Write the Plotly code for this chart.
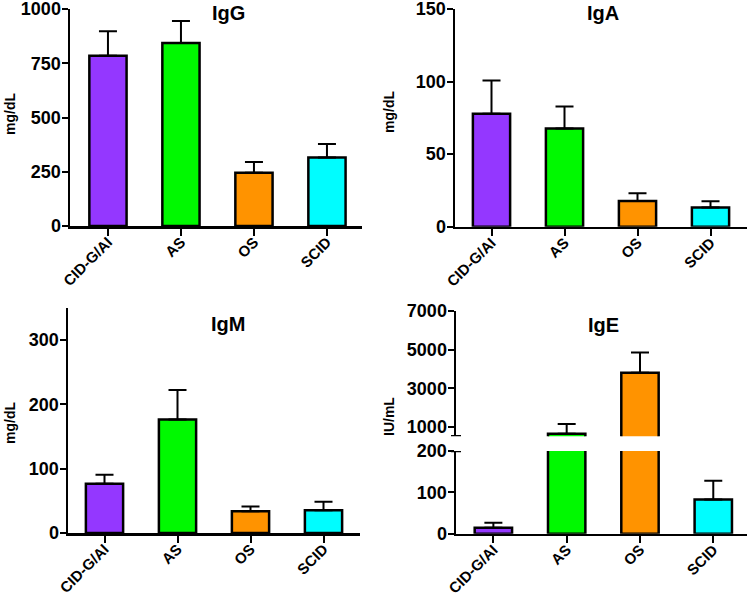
import plotly.graph_objects as go

# ---------------- data ----------------
groups = ["CID-G/AI", "AS", "OS", "SCID"]
colors = ["#9437FF", "#00F900", "#FF9300", "#00FDFF"]

igg_mean = [785, 843, 245, 316]
igg_sd = [113, 102, 50, 62]

iga_mean = [77.8, 67.6, 17.7, 13.2]
iga_sd = [23.0, 15.3, 5.3, 4.3]

igm_mean = [76.5, 176.5, 33.7, 35.2]
igm_sd = [14.0, 46.0, 7.7, 13.4]

ige_mean = [14.5, 654, 3811, 83]
ige_sd = [12.1, 501, 1049, 45]

igg_ticks = [0, 250, 500, 750, 1000]
iga_ticks = [0, 50, 100, 150]
igm_ticks = [0, 100, 200, 300]
ige_low_ticks = [0, 100, 200]
ige_high_ticks = [1000, 3000, 5000, 7000]

# ---------------- layout helpers ----------------
W, H = 750, 594
FONT = "Liberation Sans, Arial, sans-serif"


def clamp(v):
    return max(0.0, min(1.0, v))


def px2x(p):
    return p / W


def px2y(p):
    return 1 - p / H


def xd(a, b):
    return [clamp(px2x(a)), clamp(px2x(b))]


def yd(top, bottom):
    return [clamp(px2y(bottom)), clamp(px2y(top))]


def bar(means, sds, xa, ya):
    return go.Bar(
        x=groups, y=means, xaxis=xa, yaxis=ya,
        marker=dict(color=colors, line=dict(color="black", width=2.5)),
        error_y=dict(type="data", symmetric=False, array=sds,
                     arrayminus=[0] * len(sds), color="black",
                     thickness=2, width=9),
        showlegend=False, hoverinfo="x+y",
    )


fig = go.Figure()
fig.add_trace(bar(igg_mean, igg_sd, "x", "y"))
fig.add_trace(bar(iga_mean, iga_sd, "x2", "y2"))
fig.add_trace(bar(igm_mean, igm_sd, "x3", "y3"))
fig.add_trace(bar(ige_mean, ige_sd, "x4", "y4"))
fig.add_trace(bar(ige_mean, ige_sd, "x4", "y5"))

tickfont = dict(family=FONT, size=18, color="black", weight="bold")
xtickfont = dict(family=FONT, size=15, color="black", weight="bold")


def xaxis(dom, anchor, rng):
    return dict(domain=xd(*dom), anchor=anchor, range=rng, type="category",
                showline=True, linecolor="black", linewidth=2.5,
                ticks="outside", ticklen=7, tickwidth=2, tickcolor="black",
                tickangle=-45, tickfont=xtickfont, showgrid=False,
                zeroline=False, fixedrange=True, automargin=False,
                ticklabelstandoff=-8, ticklabeloverflow="allow")


def yaxis(dom, anchor, rng, ticks):
    return dict(domain=yd(*dom), anchor=anchor, range=rng,
                tickvals=ticks, ticktext=[str(t) for t in ticks],
                showline=True, linecolor="black", linewidth=2.5,
                ticks="outside", ticklen=6, tickwidth=2, tickcolor="black",
                tickfont=tickfont, showgrid=False, zeroline=False,
                fixedrange=True, automargin=False,
                ticklabeloverflow="allow", ticklabelstandoff=-3)


IGE_X = (456, 747)
IGE_LOW = (451, 533.7)
IGE_HIGH = (311, 436.3)
IGE_HIGH_MIN = 520

fig.update_layout(
    width=W, height=H, autosize=False,
    margin=dict(l=0, r=0, t=0, b=0, autoexpand=False),
    paper_bgcolor="white", plot_bgcolor="white",
    bargap=0.49,
    xaxis=xaxis((70, 362), "y", [-0.52, 3.48]),
    yaxis=yaxis((9, 226), "x", [0, 1000], igg_ticks),
    xaxis2=xaxis((455, 747), "y2", [-0.5, 3.5]),
    yaxis2=yaxis((9, 226.7), "x2", [0, 150], iga_ticks),
    xaxis3=xaxis((68, 360), "y3", [-0.5, 3.5]),
    yaxis3=yaxis((308, 533), "x3", [0, 350], igm_ticks),
    xaxis4=xaxis(IGE_X, "y4", [-0.51, 3.46]),
    yaxis4=yaxis(IGE_LOW, "x4", [0, 200], ige_low_ticks),
    yaxis5=yaxis(IGE_HIGH, "x4", [IGE_HIGH_MIN, 7000], ige_high_ticks),
)

# axis break marks on the IgE y axis
ax_x = px2x(IGE_X[0])
half = 5 / W
fig.add_shape(type="line", xref="paper", yref="y5",
              x0=ax_x - half, x1=ax_x + half, y0=IGE_HIGH_MIN, y1=IGE_HIGH_MIN,
              line=dict(color="black", width=2.5))
fig.add_shape(type="line", xref="paper", yref="y4",
              x0=ax_x - half, x1=ax_x + half, y0=200, y1=200,
              line=dict(color="black", width=2.5))

titles = [("IgG", 228, 13), ("IgA", 603, 13), ("IgM", 228, 324), ("IgE", 603, 325)]
for txt, px, py in titles:
    fig.add_annotation(text=txt, x=px2x(px), y=px2y(py), xref="paper", yref="paper",
                       showarrow=False, xanchor="center", yanchor="middle",
                       font=dict(family=FONT, size=20, color="black", weight="bold"))

ytitles = [("mg/dL", 10, 114), ("mg/dL", 389, 112), ("mg/dL", 10, 423), ("IU/mL", 389, 417)]
for txt, px, py in ytitles:
    fig.add_annotation(text=txt, x=px2x(px), y=px2y(py), xref="paper", yref="paper",
                       showarrow=False, xanchor="center", yanchor="middle",
                       textangle=-90,
                       font=dict(family=FONT, size=14, color="black", weight="bold"))

# remove the default page margin so the figure sits at the window's corner
fig.write_html("out.html",
               config={"displayModeBar": False, "staticPlot": True},
               post_script="document.body.style.margin='0';"
                           "document.body.style.overflow='hidden';")
